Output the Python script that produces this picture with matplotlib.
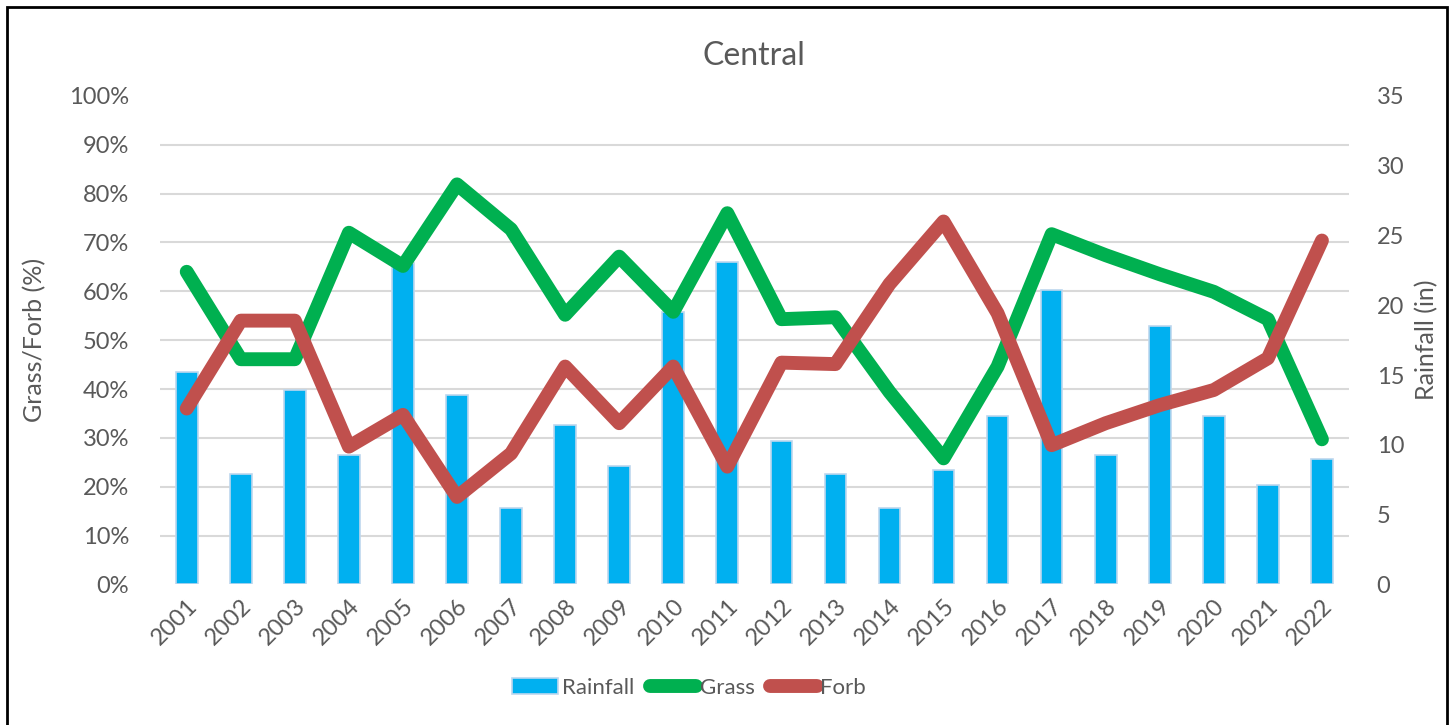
import numpy as np
import matplotlib
matplotlib.use('Agg')
import matplotlib.pyplot as plt
from matplotlib.patches import Rectangle

plt.rcParams['font.family'] = ['Lato', 'DejaVu Sans']

# Data
years = [str(y) for y in range(2001, 2023)]
rainfall = [15.2, 7.9, 13.9, 9.3, 23.0, 13.6, 5.5, 11.4, 8.5, 19.5, 23.1,
            10.3, 7.9, 5.5, 8.2, 12.1, 21.1, 9.3, 18.5, 12.1, 7.1, 9.0]
grass = [64.0, 46.1, 46.1, 72.0, 65.2, 81.9, 72.7, 55.2, 67.1, 55.8, 76.0,
         54.3, 54.7, 39.4, 25.8, 44.6, 71.7, 67.4, 63.5, 59.9, 54.3, 29.7]
forb = [36.0, 54.0, 54.0, 28.2, 34.7, 17.9, 26.8, 44.6, 33.0, 44.6, 24.1,
        45.4, 45.1, 61.5, 74.3, 55.5, 28.5, 33.0, 36.7, 39.8, 46.3, 70.4]

txt = '#595959'
x = np.arange(len(years))

fig = plt.figure(figsize=(14.53, 7.25), dpi=100)
ax = fig.add_axes([0.1099, 0.194, 0.8185, 0.6736])
ax2 = ax.twinx()

# bars on the right axis, underneath the lines
ax2.bar(x, rainfall, width=0.4, color='#00B0F0', edgecolor='#BDD7EE',
        linewidth=1.2, label='Rainfall', zorder=2)
ax2.set_ylim(0, 35)
ax2.set_yticks(range(0, 36, 5))
ax2.set_yticks(np.arange(0, 35.1, 3.5), minor=True)
ax2.grid(which='minor', axis='y', color='#D9D9D9', linewidth=1.5, zorder=0)
ax2.set_axisbelow(True)
ax2.tick_params(axis='y', which='both', length=0, labelsize=17, labelcolor=txt, pad=20)
ax2.set_ylabel('Rainfall (in)', fontsize=18, color=txt, labelpad=8)

ax.set_zorder(ax2.get_zorder() + 1)
ax.patch.set_visible(False)
ax.plot(x, grass, color='#00B050', linewidth=10, solid_capstyle='round',
        solid_joinstyle='round', label='Grass')
ax.plot(x, forb, color='#C0504D', linewidth=10, solid_capstyle='round',
        solid_joinstyle='round', label='Forb')
ax.set_ylim(0, 100)
ax.set_yticks(range(0, 101, 10))
ax.set_yticklabels([f'{v}%' for v in range(0, 101, 10)])
ax.set_xlim(-0.5, len(years) - 0.5)
ax.set_xticks(x)
ax.set_xticklabels(years, rotation=45, ha='right', rotation_mode='anchor')
ax.tick_params(axis='y', length=0, labelsize=17, labelcolor=txt, pad=22)
ax.tick_params(axis='x', length=0, labelsize=17, labelcolor=txt, pad=8)
ax.set_ylabel('Grass/Forb (%)', fontsize=18, color=txt, labelpad=16)

for a in (ax, ax2):
    for s in a.spines.values():
        s.set_visible(False)

ax.set_title('Central', fontsize=23, color=txt, pad=22)

h2, l2 = ax2.get_legend_handles_labels()
h1, l1 = ax.get_legend_handles_labels()
fig.legend(h2 + h1, l2 + l1, loc='center', bbox_to_anchor=(0.474, 0.051),
           ncol=3, frameon=False, fontsize=16, labelcolor=txt,
           handlelength=2.1, handletextpad=0.15, columnspacing=0.7)

# outer frame of the chart
fig.patches.append(Rectangle((0.0045, -0.01), 0.9915, 1.0, transform=fig.transFigure,
                             fill=False, edgecolor='black', linewidth=2))

fig.savefig('out.png', dpi=100)
